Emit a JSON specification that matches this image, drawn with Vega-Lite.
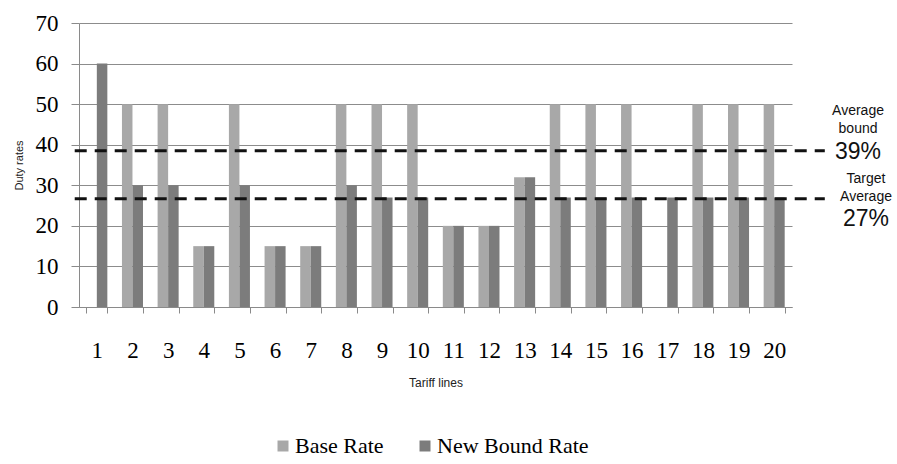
{
  "$schema": "https://vega.github.io/schema/vega-lite/v6.json",
  "width": 713,
  "height": 284,
  "autosize": "none",
  "padding": {"left": 79, "top": 23, "right": 105, "bottom": 157},
  "background": "white",
  "config": {
    "view": {"stroke": null},
    "axis": {
      "labelFont": "Liberation Serif",
      "labelColor": "#000",
      "titleFont": "Liberation Sans",
      "titleFontWeight": "normal",
      "titleColor": "#222",
      "domainColor": "#8a8a8a",
      "tickColor": "#8a8a8a",
      "gridColor": "#8c8c8c"
    }
  },
  "layer": [
    {
      "data": {
        "values": [
          {"line": 1, "series": "New Bound Rate", "rate": 60},
          {"line": 2, "series": "Base Rate", "rate": 50},
          {"line": 2, "series": "New Bound Rate", "rate": 30},
          {"line": 3, "series": "Base Rate", "rate": 50},
          {"line": 3, "series": "New Bound Rate", "rate": 30},
          {"line": 4, "series": "Base Rate", "rate": 15},
          {"line": 4, "series": "New Bound Rate", "rate": 15},
          {"line": 5, "series": "Base Rate", "rate": 50},
          {"line": 5, "series": "New Bound Rate", "rate": 30},
          {"line": 6, "series": "Base Rate", "rate": 15},
          {"line": 6, "series": "New Bound Rate", "rate": 15},
          {"line": 7, "series": "Base Rate", "rate": 15},
          {"line": 7, "series": "New Bound Rate", "rate": 15},
          {"line": 8, "series": "Base Rate", "rate": 50},
          {"line": 8, "series": "New Bound Rate", "rate": 30},
          {"line": 9, "series": "Base Rate", "rate": 50},
          {"line": 9, "series": "New Bound Rate", "rate": 27},
          {"line": 10, "series": "Base Rate", "rate": 50},
          {"line": 10, "series": "New Bound Rate", "rate": 27},
          {"line": 11, "series": "Base Rate", "rate": 20},
          {"line": 11, "series": "New Bound Rate", "rate": 20},
          {"line": 12, "series": "Base Rate", "rate": 20},
          {"line": 12, "series": "New Bound Rate", "rate": 20},
          {"line": 13, "series": "Base Rate", "rate": 32},
          {"line": 13, "series": "New Bound Rate", "rate": 32},
          {"line": 14, "series": "Base Rate", "rate": 50},
          {"line": 14, "series": "New Bound Rate", "rate": 27},
          {"line": 15, "series": "Base Rate", "rate": 50},
          {"line": 15, "series": "New Bound Rate", "rate": 27},
          {"line": 16, "series": "Base Rate", "rate": 50},
          {"line": 16, "series": "New Bound Rate", "rate": 27},
          {"line": 17, "series": "New Bound Rate", "rate": 27},
          {"line": 18, "series": "Base Rate", "rate": 50},
          {"line": 18, "series": "New Bound Rate", "rate": 27},
          {"line": 19, "series": "Base Rate", "rate": 50},
          {"line": 19, "series": "New Bound Rate", "rate": 27},
          {"line": 20, "series": "Base Rate", "rate": 50},
          {"line": 20, "series": "New Bound Rate", "rate": 27}
        ]
      },
      "mark": {"type": "bar"},
      "encoding": {
        "x": {
          "field": "line",
          "type": "ordinal",
          "scale": {"paddingInner": 0.41, "paddingOuter": 0.205},
          "axis": {
            "title": "Tariff lines",
            "titleFontSize": 12,
            "titlePadding": 15,
            "labelAngle": 0,
            "labelFontSize": 23,
            "labelPadding": 26,
            "tickSize": 6,
            "tickBand": "extent",
            "grid": false
          }
        },
        "xOffset": {
          "field": "series",
          "type": "nominal",
          "scale": {"domain": ["Base Rate", "New Bound Rate"], "paddingInner": 0}
        },
        "y": {
          "field": "rate",
          "type": "quantitative",
          "scale": {"domain": [0, 70], "nice": false},
          "axis": {
            "title": "Duty rates",
            "titleFontSize": 11,
            "titlePadding": 11,
            "values": [0, 10, 20, 30, 40, 50, 60, 70],
            "labelFontSize": 23,
            "labelPadding": 13,
            "tickSize": 8,
            "grid": true
          }
        },
        "color": {
          "field": "series",
          "type": "nominal",
          "scale": {"domain": ["Base Rate", "New Bound Rate"], "range": ["#a8a8a8", "#7c7c7c"]},
          "legend": {
            "title": null,
            "orient": "none",
            "direction": "horizontal",
            "legendX": 193,
            "legendY": 412,
            "symbolType": "square",
            "symbolSize": 121,
            "symbolStrokeWidth": 0,
            "labelFont": "Liberation Serif",
            "labelFontSize": 22,
            "labelColor": "#000",
            "labelOffset": 1,
            "columnPadding": 30
          }
        }
      }
    },
    {
      "data": {
        "values": [
          {"name": "bound", "value": 38.5, "pct": "39%"},
          {"name": "target", "value": 26.7, "pct": "27%"}
        ]
      },
      "encoding": {
        "y": {"field": "value", "type": "quantitative"}
      },
      "layer": [
        {
          "mark": {"type": "rule", "strokeDash": [12, 8], "strokeWidth": 3, "color": "#111"},
          "encoding": {
            "x": {"datum": -0.006, "type": "quantitative", "scale": {"domain": [0, 1], "nice": false, "zero": false}, "axis": null},
            "x2": {"datum": 1.046}
          }
        },
        {
          "transform": [{"filter": "datum.name === 'bound'"}],
          "mark": {"type": "text", "text": "Average", "font": "Liberation Sans", "fontSize": 14, "dy": -40, "baseline": "middle", "align": "center", "color": "#111"},
          "encoding": {"x": {"datum": 1.0926, "type": "quantitative", "axis": null}}
        },
        {
          "transform": [{"filter": "datum.name === 'bound'"}],
          "mark": {"type": "text", "text": "bound", "font": "Liberation Sans", "fontSize": 14, "dy": -22, "baseline": "middle", "align": "center", "color": "#111"},
          "encoding": {"x": {"datum": 1.0926, "type": "quantitative", "axis": null}}
        },
        {
          "transform": [{"filter": "datum.name === 'bound'"}],
          "mark": {"type": "text", "font": "Liberation Sans", "fontSize": 23, "dy": 1, "baseline": "middle", "align": "center", "color": "#111"},
          "encoding": {"x": {"datum": 1.0926, "type": "quantitative", "axis": null}, "text": {"field": "pct"}}
        },
        {
          "transform": [{"filter": "datum.name === 'target'"}],
          "mark": {"type": "text", "text": "Target", "font": "Liberation Sans", "fontSize": 14, "dy": -20, "baseline": "middle", "align": "center", "color": "#111"},
          "encoding": {"x": {"datum": 1.1038, "type": "quantitative", "axis": null}}
        },
        {
          "transform": [{"filter": "datum.name === 'target'"}],
          "mark": {"type": "text", "text": "Average", "font": "Liberation Sans", "fontSize": 14, "dy": -2, "baseline": "middle", "align": "center", "color": "#111"},
          "encoding": {"x": {"datum": 1.1038, "type": "quantitative", "axis": null}}
        },
        {
          "transform": [{"filter": "datum.name === 'target'"}],
          "mark": {"type": "text", "font": "Liberation Sans", "fontSize": 23, "dy": 20, "baseline": "middle", "align": "center", "color": "#111"},
          "encoding": {"x": {"datum": 1.1038, "type": "quantitative", "axis": null}, "text": {"field": "pct"}}
        }
      ]
    }
  ],
  "resolve": {"scale": {"x": "independent"}}
}
